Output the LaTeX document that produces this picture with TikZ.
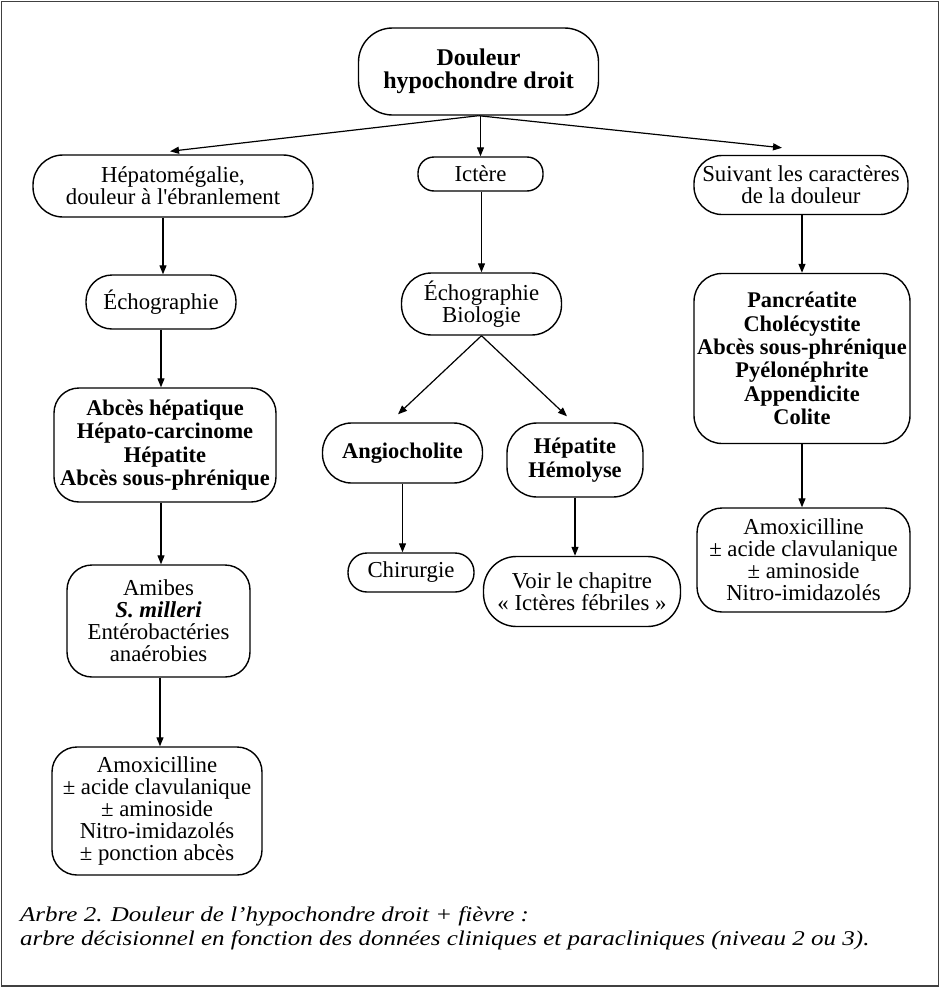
\documentclass[tikz,border=0pt]{standalone}
\usepackage{fontspec}
\setmainfont{Liberation Serif}[Ligatures=TeXOff]
\usetikzlibrary{arrows.meta}
\begin{document}
\begin{tikzpicture}[x=1pt,y=-1pt,
  box/.style={draw, line width=1.4pt, inner sep=0pt, align=center,
    font=\fontsize{22.8}{21.9}\selectfont},
  bbox/.style={box, font=\fontsize{22.4}{23.3}\selectfont\bfseries},
  arr/.style={-{Triangle[length=9pt,width=7pt]}, line width=1.2pt},
  capt/.style={anchor=base west, inner sep=0pt,
    font=\fontsize{21}{24}\selectfont\itshape}]
\useasboundingbox (0,0) rectangle (940,988);
\draw[line width=1.2pt, black!75] (1.5,1.5) rectangle (938.5,986);

% top of the tree
\node[box, font=\fontsize{24}{22.5}\selectfont\bfseries,
  minimum width=240pt, minimum height=87pt, rounded corners=34pt]
  (root) at (478.5,71.5) {Douleur\\hypochondre droit};

% first level
\node[box, minimum width=280pt, minimum height=62pt, rounded corners=30pt]
  (hep) at (173,186) {Hépatomégalie,\\douleur à l'ébranlement};
\node[box, minimum width=125pt, minimum height=34pt, rounded corners=16pt]
  (ict) at (480.5,174) {Ictère};
\node[box, minimum width=214pt, minimum height=59pt, rounded corners=28pt]
  (car) at (801,185) {Suivant les caractères\\de la douleur};

% left branch
\node[box, minimum width=150pt, minimum height=54pt, rounded corners=26pt]
  (echoL) at (161,302) {Échographie};
\node[bbox, minimum width=222pt, minimum height=114pt, rounded corners=25pt]
  (abc) at (165,445) {Abcès hépatique\\Hépato-carcinome\\Hépatite\\Abcès sous-phrénique};
\node[box, minimum width=183pt, minimum height=112pt, rounded corners=25pt]
  (germ) at (158.5,621) {Amibes\\\textbf{\textit{S. milleri}}\\Entérobactéries\\anaérobies};
\node[box, minimum width=210pt, minimum height=128pt, rounded corners=25pt]
  (amoxL) at (157,811) {Amoxicilline\\± acide clavulanique\\± aminoside\\Nitro-imidazolés\\± ponction abcès};

% middle branch
\node[box, minimum width=160pt, minimum height=62pt, rounded corners=30pt]
  (echoM) at (481.5,304) {Échographie\\Biologie};
\node[bbox, minimum width=160pt, minimum height=60pt, rounded corners=29pt]
  (angio) at (402.5,453) {Angiocholite};
\node[bbox, minimum width=136pt, minimum height=74pt, rounded corners=30pt]
  (hepat) at (575,460) {Hépatite\\Hémolyse};
\node[box, minimum width=126pt, minimum height=39pt, rounded corners=19pt]
  (chir) at (411,572.5) {Chirurgie};
\node[box, minimum width=197pt, minimum height=70pt, rounded corners=33pt]
  (voir) at (582,591.5) {Voir le chapitre\\« Ictères fébriles »};

% right branch
\node[bbox, minimum width=216pt, minimum height=170pt, rounded corners=28pt]
  (panc) at (802,358.5) {Pancréatite\\Cholécystite\\Abcès sous-phrénique\\Pyélonéphrite\\Appendicite\\Colite};
\node[box, minimum width=213pt, minimum height=104pt, rounded corners=25pt]
  (amoxR) at (803.5,560) {Amoxicilline\\± acide clavulanique\\± aminoside\\Nitro-imidazolés};

% connectors
\draw[arr] (root.south) -- ([xshift=-3pt,yshift=3pt]hep.north);
\draw[arr] (root.south -| ict.north) -- (ict.north);
\draw[arr] (root.south) -- ([xshift=-19pt,yshift=7pt]car.north);
\draw[arr] (hep.south) ++(-10pt,0) coordinate (h1) -- (h1 |- echoL.north);
\draw[arr] (echoL.south) -- (echoL.south |- abc.north);
\draw[arr] (abc.south) ++(-4pt,0) coordinate (a1) -- (a1 |- germ.north);
\draw[arr] (germ.south) ++(1.5pt,0) coordinate (g1) -- (g1 |- amoxL.north);
\draw[arr] (ict.south) ++(1pt,0) coordinate (i1) -- (i1 |- echoM.north);
\draw[arr] (echoM.south) -- ([xshift=-4.5pt,yshift=8pt]angio.north);
\draw[arr] (echoM.south) -- ([xshift=-8pt,yshift=6pt]hepat.north);
\draw[arr] (angio.south) -- (chir.north -| angio.south);
\draw[arr] (hepat.south) -- (voir.north -| hepat.south);
\draw[arr] (car.south) ++(1pt,0) coordinate (c1) -- (c1 |- panc.north);
\draw[arr] (panc.south) -- (amoxR.north -| panc.south);

% caption
\node[capt] (cap1) at (20,921) {\scalebox{1.19}[1]{Arbre 2. Douleur de l’hypochondre droit + fièvre :}};
\node[capt] (cap2) at (20,945) {\scalebox{1.19}[1]{arbre décisionnel en fonction des données cliniques et paracliniques (niveau 2 ou 3).}};
\end{tikzpicture}
\end{document}
